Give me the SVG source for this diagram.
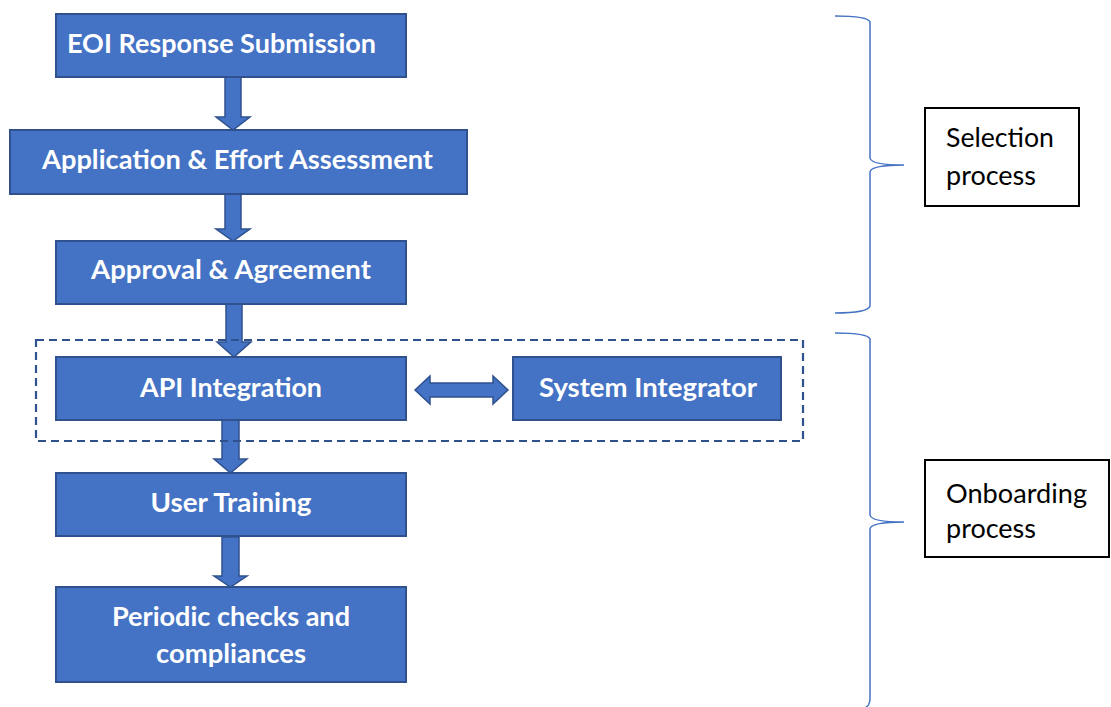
<svg xmlns="http://www.w3.org/2000/svg" width="1111" height="707" viewBox="0 0 1111 707">
<style>
.box{fill:#4472C4;stroke:#2F528F;stroke-width:2}
.t{font-family:Lato,"Open Sans",sans-serif;font-weight:bold;font-size:27.5px;fill:#fff;text-anchor:middle}
.arr{fill:#4472C4;stroke:#2F528F;stroke-width:1.5;stroke-linejoin:miter}
.brace{fill:none;stroke:#4472C4;stroke-width:1.5}
.lbl{fill:#fff;stroke:#000;stroke-width:2}
.lt{font-family:Lato,"Open Sans",sans-serif;font-size:26.5px;fill:#000}
</style>
<rect width="1111" height="707" fill="#fff"/>
<g id="connectors">
<path class="arr" d="M225,77 H241 V117 H250 L233,130 L216,117 H225 Z"/>
<path class="arr" d="M225,194 H241 V229 H250 L233,241 L216,229 H225 Z"/>
<path class="arr" d="M226,304 H242 V342 H251 L234,357 L217,342 H226 Z"/>
<path class="arr" d="M222,420 H239 V459 H247 L230.5,473 L214,459 H222 Z"/>
<path class="arr" d="M222,537 H239 V576 H247 L230.5,587 L214,576 H222 Z"/>
<path class="arr" d="M415,390 L430,376 V383 H493 V376 L508,390 L493,404 V397 H430 V404 Z"/>
</g>
<rect id="integration-group" x="36" y="340" width="767" height="101" fill="none" stroke="#2F528F" stroke-width="2.2" stroke-dasharray="8,5"/>
<g id="n1"><rect class="box" x="56" y="14" width="350" height="63"/><text class="t" x="221.5" y="53" textLength="309" lengthAdjust="spacingAndGlyphs">EOI Response Submission</text></g>
<g id="n2"><rect class="box" x="10" y="130" width="457" height="64"/><text class="t" x="237.5" y="169" textLength="391" lengthAdjust="spacingAndGlyphs">Application &amp; Effort Assessment</text></g>
<g id="n3"><rect class="box" x="56" y="241" width="350" height="63"/><text class="t" x="231" y="279" textLength="280" lengthAdjust="spacingAndGlyphs">Approval &amp; Agreement</text></g>
<g id="n4"><rect class="box" x="56" y="357" width="350" height="63"/><text class="t" x="231" y="397" textLength="182" lengthAdjust="spacingAndGlyphs">API Integration</text></g>
<g id="n5"><rect class="box" x="513" y="357" width="268" height="63"/><text class="t" x="648" y="397" textLength="218" lengthAdjust="spacingAndGlyphs">System Integrator</text></g>
<g id="n6"><rect class="box" x="56" y="473" width="350" height="63"/><text class="t" x="231" y="512" textLength="161" lengthAdjust="spacingAndGlyphs">User Training</text></g>
<g id="n7"><rect class="box" x="56" y="587" width="350" height="95"/><text class="t" x="231" y="626" textLength="238" lengthAdjust="spacingAndGlyphs">Periodic checks and</text><text class="t" x="231" y="663" textLength="150" lengthAdjust="spacingAndGlyphs">compliances</text></g>
<g id="brace-selection"><path class="brace" d="M835,16 Q868,16 870,22 V158 Q871,165 904,165 Q871,165 870,172 V306 Q868,313 835,313"/></g>
<g id="brace-onboarding"><path class="brace" d="M835,333 Q868,333 870,339 V515 Q871,522 904,522 Q871,522 870,529 V700 Q869,706 866,707"/></g>
<g id="label-selection"><rect class="lbl" x="925" y="108" width="154" height="98"/><text class="lt" x="946" y="147" textLength="108" lengthAdjust="spacingAndGlyphs">Selection</text><text class="lt" x="946" y="185" textLength="90" lengthAdjust="spacingAndGlyphs">process</text></g>
<g id="label-onboarding"><rect class="lbl" x="925" y="460" width="184" height="97"/><text class="lt" x="946" y="503" textLength="141" lengthAdjust="spacingAndGlyphs">Onboarding</text><text class="lt" x="946" y="538" textLength="90" lengthAdjust="spacingAndGlyphs">process</text></g>
</svg>
